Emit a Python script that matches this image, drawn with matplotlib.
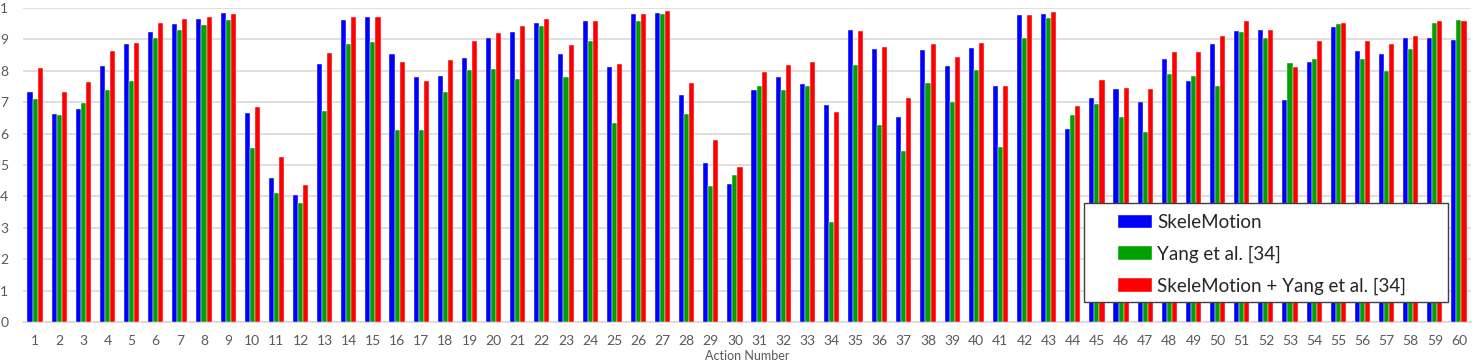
import matplotlib
matplotlib.use("Agg")
import matplotlib.pyplot as plt
from matplotlib.patches import Rectangle
import numpy as np

plt.rcParams['font.family'] = ['Lato', 'DejaVu Sans']

actions = list(range(1, 61))

skelemotion = [0.732, 0.662, 0.679, 0.815, 0.885, 0.925, 0.950, 0.966, 0.985, 0.665,
               0.460, 0.404, 0.821, 0.962, 0.972, 0.852, 0.780, 0.783, 0.840, 0.906,
               0.925, 0.953, 0.853, 0.958, 0.811, 0.982, 0.985, 0.722, 0.505, 0.439,
               0.738, 0.780, 0.757, 0.691, 0.931, 0.868, 0.654, 0.865, 0.815, 0.873,
               0.751, 0.979, 0.982, 0.615, 0.714, 0.743, 0.701, 0.837, 0.767, 0.886,
               0.928, 0.929, 0.708, 0.827, 0.940, 0.862, 0.854, 0.906, 0.906, 0.899]

yang = [0.709, 0.659, 0.697, 0.738, 0.767, 0.903, 0.930, 0.947, 0.962, 0.555,
        0.411, 0.379, 0.671, 0.885, 0.893, 0.610, 0.612, 0.732, 0.802, 0.807,
        0.773, 0.942, 0.780, 0.896, 0.633, 0.958, 0.982, 0.662, 0.434, 0.469,
        0.753, 0.738, 0.753, 0.317, 0.820, 0.627, 0.546, 0.761, 0.700, 0.803,
        0.557, 0.903, 0.969, 0.658, 0.694, 0.653, 0.605, 0.789, 0.782, 0.751,
        0.924, 0.904, 0.824, 0.838, 0.949, 0.837, 0.799, 0.868, 0.951, 0.962]

combined = [0.808, 0.732, 0.765, 0.862, 0.888, 0.951, 0.966, 0.972, 0.981, 0.684,
            0.525, 0.436, 0.856, 0.970, 0.972, 0.829, 0.767, 0.834, 0.894, 0.919,
            0.942, 0.966, 0.881, 0.960, 0.822, 0.982, 0.990, 0.762, 0.581, 0.494,
            0.796, 0.818, 0.827, 0.668, 0.928, 0.877, 0.713, 0.885, 0.843, 0.889,
            0.751, 0.979, 0.988, 0.688, 0.770, 0.745, 0.743, 0.859, 0.859, 0.912,
            0.960, 0.929, 0.811, 0.896, 0.952, 0.894, 0.885, 0.910, 0.958, 0.958]

series_names = ["SkeleMotion", "Yang et al. [34]", "SkeleMotion + Yang et al. [34]"]
series_colors = ["#0000FF", "#00A000", "#FF0000"]
ytick_values = [0.0, 0.1, 0.2, 0.3, 0.4, 0.5, 0.6, 0.7, 0.8, 0.9, 1.0]
ytick_labels = ["0", "1", "2", "3", "4", "5", "6", "7", "8", "9", "1"]

W, H = 1473, 362
fig = plt.figure(figsize=(W / 100, H / 100), dpi=100)
ax = fig.add_axes([23 / W, (H - 322) / H, (1471 - 23) / W, (322 - 8) / H])

x = np.array(actions, dtype=float)
bw = 0.21
handles = []
for i, (vals, col) in enumerate(zip([skelemotion, yang, combined], series_colors)):
    b = ax.bar(x + (i - 1) * bw, vals, width=bw, color=col,
               edgecolor="#ffffff", linewidth=0.3, zorder=3, label=series_names[i])
    handles.append(b)

ax.set_xlim(0.5, 60.5)
ax.set_ylim(0, 1)
ax.set_yticks(ytick_values)
ax.set_yticklabels(ytick_labels)
ax.set_xticks(x)
ax.set_xticklabels([str(a) for a in actions])
ax.tick_params(axis='both', length=0, labelsize=10, labelcolor="#595959")
ax.tick_params(axis='y', pad=10.5)
ax.tick_params(axis='x', pad=9.5)
ax.yaxis.grid(True, color="#d9d9d9", linewidth=1.2, zorder=0)
ax.set_axisbelow(True)
for s in ["top", "right", "left"]:
    ax.spines[s].set_visible(False)
ax.spines["bottom"].set_color("#d9d9d9")
ax.spines["bottom"].set_linewidth(1.2)

# legend box
fig.patches.append(Rectangle((1084 / W, (H - 302) / H), (1448 - 1084) / W, (302 - 203) / H,
                             transform=fig.transFigure, facecolor="white",
                             edgecolor="#404040", linewidth=1.0, zorder=10))
leg = fig.legend(handles=handles, labels=series_names, loc="upper left",
                 bbox_to_anchor=(1104 / W, (H - 200) / H), frameon=False,
                 fontsize=13.5, handlelength=1.8, handleheight=0.75,
                 handletextpad=0.3, labelspacing=0.78, borderpad=0.25)
leg.set_zorder(11)
for t in leg.get_texts():
    t.set_color("#262626")

fig.text(747 / W, 0.5 / H, "Action Number", ha="center", va="bottom",
         fontsize=9, color="#595959")

fig.savefig("out.png", dpi=100)
